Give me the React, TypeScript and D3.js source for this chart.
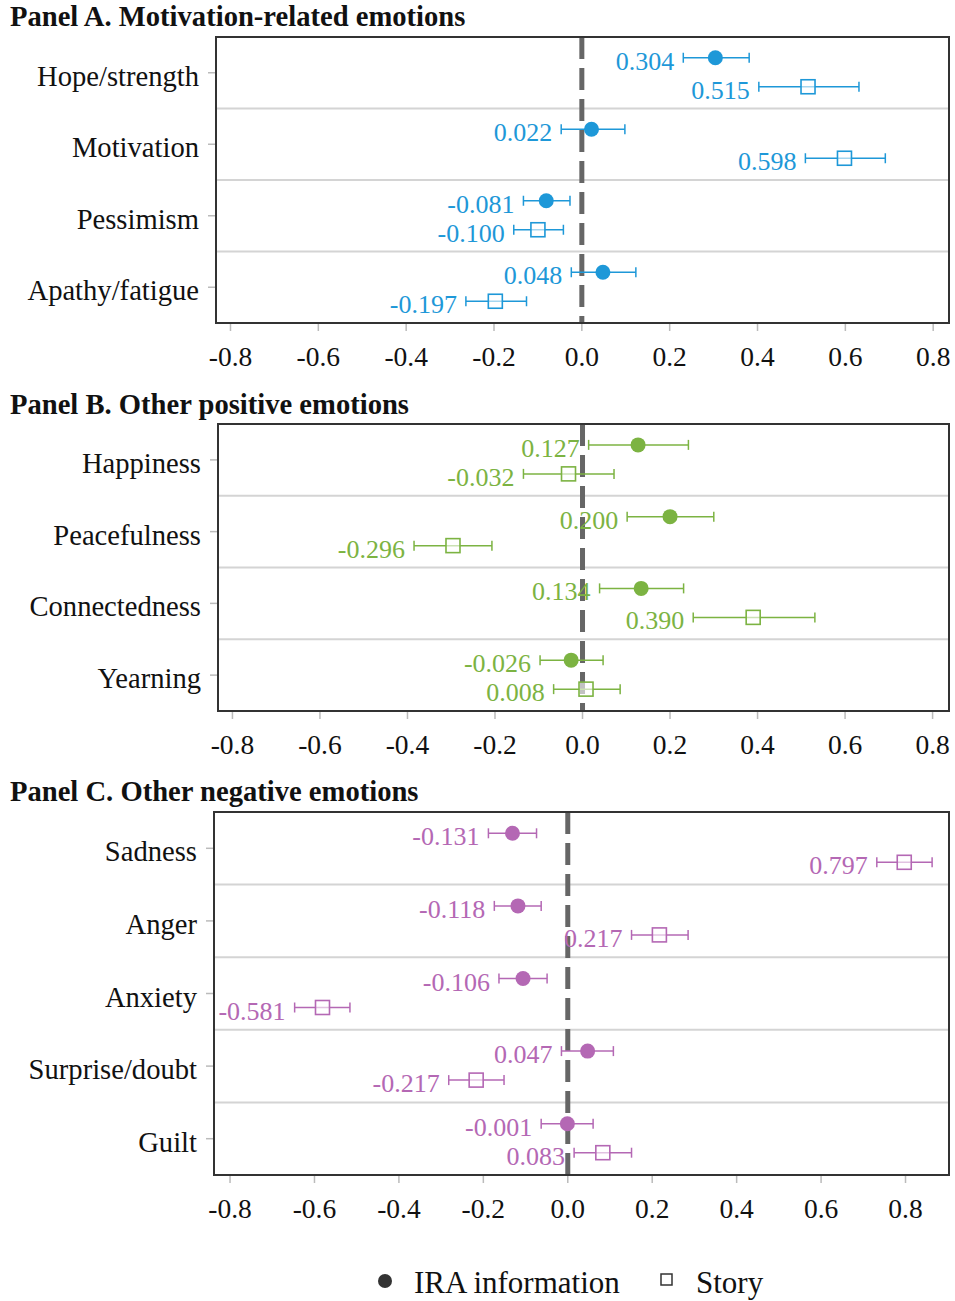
import * as d3 from 'd3';
import React from 'react';

// Panel A. Motivation-related emotions
const catsA = ['Hope/strength', 'Motivation', 'Pessimism', 'Apathy/fatigue'];
const iraA = [0.304, 0.022, -0.081, 0.048];
const iraLoA = [0.231, -0.047, -0.133, -0.024];
const iraHiA = [0.381, 0.098, -0.027, 0.123];
const storyA = [0.515, 0.598, -0.1, -0.197];
const storyLoA = [0.403, 0.509, -0.155, -0.264];
const storyHiA = [0.631, 0.691, -0.042, -0.126];

// Panel B. Other positive emotions
const catsB = ['Happiness', 'Peacefulness', 'Connectedness', 'Yearning'];
const iraB = [0.127, 0.2, 0.134, -0.026];
const iraLoB = [0.014, 0.102, 0.039, -0.097];
const iraHiB = [0.242, 0.3, 0.231, 0.047];
const storyB = [-0.032, -0.296, 0.39, 0.008];
const storyLoB = [-0.135, -0.385, 0.253, -0.066];
const storyHiB = [0.072, -0.207, 0.531, 0.086];

// Panel C. Other negative emotions
const catsC = ['Sadness', 'Anger', 'Anxiety', 'Surprise/doubt', 'Guilt'];
const iraC = [-0.131, -0.118, -0.106, 0.047, -0.001];
const iraLoC = [-0.188, -0.174, -0.163, -0.015, -0.063];
const iraHiC = [-0.074, -0.063, -0.049, 0.108, 0.06];
const storyC = [0.797, 0.217, -0.581, -0.217, 0.083];
const storyLoC = [0.732, 0.151, -0.647, -0.282, 0.015];
const storyHiC = [0.863, 0.285, -0.516, -0.151, 0.151];

const xTicks = [-0.8, -0.6, -0.4, -0.2, 0, 0.2, 0.4, 0.6, 0.8];

const FONT = '"Liberation Serif", "Times New Roman", serif';

const panels = [
  {
    title: 'Panel A. Motivation-related emotions',
    cats: catsA, ira: iraA, iraLo: iraLoA, iraHi: iraHiA,
    story: storyA, storyLo: storyLoA, storyHi: storyHiA,
    color: '#1e98d8',
    domain: [-0.833, 0.836], left: 216, right: 949, top: 37, bottom: 323, titleY: 26,
  },
  {
    title: 'Panel B. Other positive emotions',
    cats: catsB, ira: iraB, iraLo: iraLoB, iraHi: iraHiB,
    story: storyB, storyLo: storyLoB, storyHi: storyHiB,
    color: '#7cb342',
    domain: [-0.833, 0.8375], left: 218, right: 949, top: 424, bottom: 711, titleY: 414,
  },
  {
    title: 'Panel C. Other negative emotions',
    cats: catsC, ira: iraC, iraLo: iraLoC, iraHi: iraHiC,
    story: storyC, storyLo: storyLoC, storyHi: storyHiC,
    color: '#b468b4',
    domain: [-0.838, 0.903], left: 214, right: 949, top: 812, bottom: 1175, titleY: 801,
  },
];

const fmt = (v: number) => v.toFixed(3);

function Panel({ p }: { p: any }) {
  const x = d3.scaleLinear().domain(p.domain).range([p.left, p.right]);
  const y = d3.scaleBand<string>().domain(p.cats).range([p.top, p.bottom]);
  const bw = y.bandwidth();

  const interval = (cy: number, v: number, lo: number, hi: number, open: boolean, key: string) => (
    <g key={key}>
      <line x1={x(lo)} x2={x(hi)} y1={cy} y2={cy} stroke={p.color} strokeWidth={1.5} />
      <line x1={x(lo)} x2={x(lo)} y1={cy - 5} y2={cy + 5} stroke={p.color} strokeWidth={1.5} />
      <line x1={x(hi)} x2={x(hi)} y1={cy - 5} y2={cy + 5} stroke={p.color} strokeWidth={1.5} />
      {open ? (
        <rect x={x(v) - 7} y={cy - 7} width={14} height={14} fill="white" fillOpacity={0.6} stroke={p.color} strokeWidth={1.6} />
      ) : (
        <circle cx={x(v)} cy={cy} r={7.5} fill={p.color} />
      )}
      <text x={x(lo) - 9} y={cy + 12} textAnchor="end" fontSize={26} fill={p.color} fontFamily={FONT}>
        {fmt(v)}
      </text>
    </g>
  );

  return (
    <g>
      <text x={10} y={p.titleY} fontSize={28.6} fontWeight="bold" fontFamily={FONT} fill="#111">
        {p.title}
      </text>
      <rect x={p.left} y={p.top} width={p.right - p.left} height={p.bottom - p.top} fill="white" />
      {/* row separators */}
      {p.cats.slice(1).map((c: string) => (
        <line key={'sep' + c} x1={p.left} x2={p.right} y1={y(c)} y2={y(c)} stroke="#d4d4d4" strokeWidth={2} />
      ))}
      {/* y ticks and labels */}
      {p.cats.map((c: string) => {
        const cy = (y(c) as number) + bw / 2;
        return (
          <g key={'yl' + c}>
            <line x1={p.left - 8} x2={p.left} y1={cy} y2={cy} stroke="#bbb" strokeWidth={1.5} />
            <text x={p.left - 17} y={cy + 13} textAnchor="end" fontSize={28.6} fontFamily={FONT} fill="#111">
              {c}
            </text>
          </g>
        );
      })}
      {/* x ticks and labels */}
      {xTicks.map(t => (
        <g key={'xt' + t}>
          <line x1={x(t)} x2={x(t)} y1={p.bottom} y2={p.bottom + 8} stroke="#bbb" strokeWidth={1.5} />
          <text x={x(t)} y={p.bottom + 43} textAnchor="middle" fontSize={27.5} fontFamily={FONT} fill="#111">
            {t.toFixed(1)}
          </text>
        </g>
      ))}
      {/* zero reference */}
      <line x1={x(0)} x2={x(0)} y1={p.top} y2={p.bottom} stroke="#666" strokeWidth={5} strokeDasharray="22 9" />
      {p.cats.map((c: string, i: number) => {
        const cy = (y(c) as number) + bw / 2;
        return (
          <g key={'pt' + c}>
            {interval(cy - 15, p.ira[i], p.iraLo[i], p.iraHi[i], false, 'i' + c)}
            {interval(cy + 14, p.story[i], p.storyLo[i], p.storyHi[i], true, 's' + c)}
          </g>
        );
      })}
      <rect x={p.left} y={p.top} width={p.right - p.left} height={p.bottom - p.top} fill="none" stroke="#333" strokeWidth={2} />
    </g>
  );
}

export default function App() {
  return (
    <svg width={955} height={1301} style={{ position: 'absolute', left: 0, top: 0, background: 'white' }}>
      <rect width={955} height={1301} fill="white" />
      {panels.map(p => (
        <Panel key={p.title} p={p} />
      ))}
      {/* legend */}
      <circle cx={385} cy={1281} r={7} fill="#333" />
      <text x={414} y={1293} fontSize={31} fontFamily={FONT} fill="#111">IRA information</text>
      <rect x={661} y={1274} width={11} height={11} fill="none" stroke="#333" strokeWidth={1.5} />
      <text x={696} y={1293} fontSize={31} fontFamily={FONT} fill="#111">Story</text>
    </svg>
  );
}
